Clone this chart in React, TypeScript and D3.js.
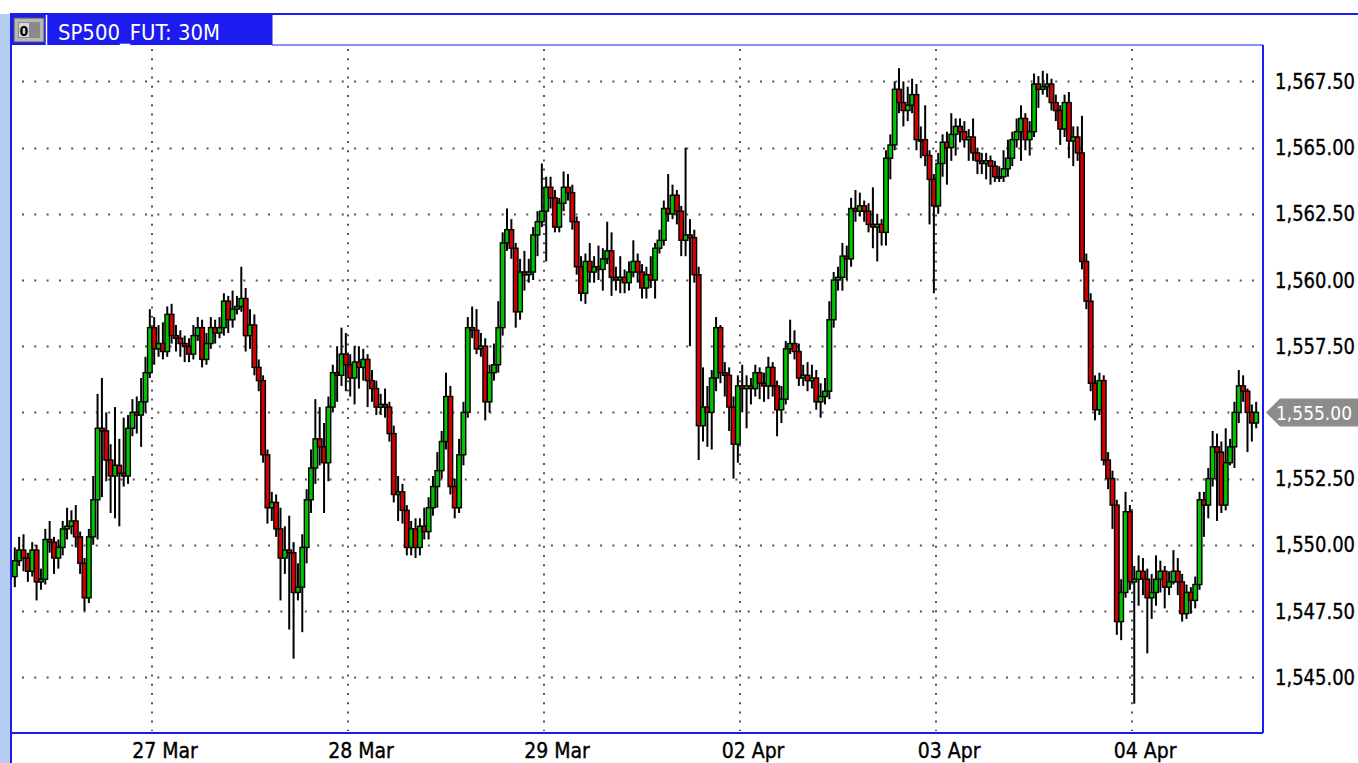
import * as d3 from "d3";

// ---- data (SP500 futures, 30 minute bars) ----
const dayLabels = ["27 Mar", "28 Mar", "29 Mar", "02 Apr", "03 Apr", "04 Apr"];
const dayStarts = [32, 77, 122, 167, 212, 257];
const priceTicks = [1545, 1547.5, 1550, 1552.5, 1555, 1557.5, 1560, 1562.5, 1565, 1567.5];
const firstOpen = 1548.8;
const lastPrice = 1555.0;

const closes = [
  // 26 Mar
  1549.4, 1549.8, 1549.5, 1549.0, 1549.8, 1548.6, 1548.7, 1550.2, 1550.1, 1549.5,
  1549.9, 1550.6, 1550.7, 1550.9, 1550.3, 1549.3, 1548.0, 1550.3, 1551.7, 1554.4,
  1554.3, 1553.2, 1552.6, 1553.0, 1552.7, 1552.6, 1554.4, 1555.0, 1554.9, 1555.4,
  1556.5, 1558.2,
  // 27 Mar
  1557.4, 1557.6, 1557.3, 1558.7, 1557.9, 1557.8, 1557.6, 1557.5, 1557.2, 1557.9,
  1558.2, 1557.0, 1557.6, 1558.2, 1558.0, 1558.2, 1559.2, 1558.5, 1558.9, 1559.0,
  1559.3, 1557.9, 1558.3, 1556.7, 1556.2, 1553.4, 1551.4, 1551.6, 1550.6, 1549.5,
  1549.8, 1549.7, 1548.2, 1548.4, 1549.9, 1551.7, 1552.9, 1554.0, 1553.7, 1553.1,
  1555.2, 1556.5, 1556.4, 1557.2, 1556.8,
  // 28 Mar
  1556.3, 1556.9, 1556.7, 1557.0, 1556.2, 1555.9, 1555.2, 1555.3, 1555.2, 1554.2,
  1551.9, 1552.0, 1551.3, 1549.9, 1550.6, 1549.9, 1550.7, 1550.5, 1551.4, 1552.2,
  1552.8, 1553.9, 1555.6, 1552.2, 1551.4, 1553.4, 1555.0, 1558.2, 1558.1, 1557.4,
  1557.5, 1555.4, 1556.5, 1556.8, 1558.2, 1561.4, 1561.9, 1561.2, 1558.8, 1560.3,
  1560.2, 1560.3, 1561.7, 1562.2, 1562.6,
  // 29 Mar
  1563.5, 1563.1, 1562.0, 1562.9, 1563.5, 1563.3, 1562.2, 1560.5, 1559.5, 1560.7,
  1560.3, 1560.5, 1560.4, 1560.8, 1561.1, 1560.1, 1560.0, 1560.1, 1559.9, 1560.3,
  1560.7, 1560.3, 1559.7, 1560.2, 1560.0, 1561.2, 1561.5, 1562.7, 1562.5, 1563.2,
  1562.6, 1561.5, 1561.7, 1561.6, 1560.2, 1554.5, 1555.2, 1555.0, 1556.3, 1558.2,
  1556.5, 1556.4, 1555.2, 1553.8, 1556.0,
  // 02 Apr
  1555.9, 1556.0, 1555.9, 1556.5, 1556.1, 1556.0, 1556.7, 1556.0, 1555.1, 1555.5,
  1557.4, 1557.6, 1557.3, 1556.3, 1556.4, 1556.2, 1556.3, 1555.4, 1555.6, 1555.8,
  1558.5, 1560.0, 1560.1, 1560.9, 1560.8, 1562.7, 1562.6, 1562.8, 1562.6, 1562.1,
  1562.0, 1562.1, 1561.8, 1564.6, 1565.1, 1567.2, 1566.7, 1566.4, 1566.6, 1567.0,
  1565.3, 1565.3, 1564.7, 1563.8, 1562.8,
  // 03 Apr
  1564.4, 1565.2, 1565.0, 1565.5, 1565.8, 1565.6, 1565.3, 1565.4, 1564.8, 1564.5,
  1564.4, 1564.5, 1564.3, 1563.9, 1563.9, 1564.2, 1564.6, 1565.3, 1565.6, 1566.1,
  1565.3, 1565.6, 1567.4, 1567.2, 1567.3, 1567.4, 1566.7, 1566.4, 1565.7, 1566.7,
  1565.25, 1565.4, 1564.8, 1560.7, 1559.2, 1556.1, 1555.1, 1556.2, 1553.2, 1552.5,
  1551.5, 1547.1, 1548.2, 1551.25, 1548.6,
  // 04 Apr
  1548.7, 1549.0, 1548.7, 1548.0, 1548.2, 1548.7, 1549.0, 1548.4, 1548.6, 1549.0,
  1548.6, 1547.4, 1548.2, 1547.9, 1548.5, 1551.7, 1551.5, 1552.5, 1553.7, 1553.5,
  1551.5, 1553.1, 1553.7, 1555.0, 1556.0, 1555.8, 1555.0, 1554.6, 1555.0,
];

const highs = [
  1549.9, 1550.3, 1550.4, 1549.7, 1550.1, 1550.0, 1549.1, 1550.6, 1550.9, 1550.3,
  1550.2, 1550.9, 1551.4, 1551.3, 1551.5, 1550.5, 1549.5, 1550.6, 1552.6, 1555.7,
  1556.3, 1555.0, 1553.8, 1555.2, 1554.0, 1554.8, 1554.9, 1555.5, 1555.6, 1556.3,
  1557.1, 1558.9,
  1558.6, 1558.3, 1558.4, 1559.0, 1559.1, 1558.3, 1558.1, 1557.9, 1557.8, 1558.3,
  1558.6, 1558.5, 1558.0, 1558.6, 1558.5, 1558.6, 1559.5, 1559.4, 1559.6, 1559.4,
  1560.5, 1559.7, 1558.9, 1558.7, 1557.0, 1556.4, 1553.6, 1552.0, 1551.9, 1551.4,
  1550.7, 1551.1, 1550.1, 1549.3, 1550.4, 1552.1, 1553.6, 1555.5, 1555.2, 1554.6,
  1555.6, 1556.8, 1557.5, 1558.2, 1558.0,
  1557.2, 1557.5, 1557.5, 1557.4, 1557.2, 1556.6, 1556.2, 1555.7, 1555.9, 1555.4,
  1554.5, 1552.6, 1552.3, 1551.5, 1550.9, 1551.0, 1551.0, 1551.4, 1551.8, 1552.6,
  1553.5, 1554.3, 1556.5, 1556.0, 1552.5, 1554.0, 1555.4, 1558.6, 1559.0, 1558.9,
  1558.0, 1557.8, 1556.8, 1557.6, 1559.2, 1561.8, 1562.7, 1562.3, 1561.4, 1560.8,
  1561.1, 1560.8, 1562.0, 1562.6, 1564.4,
  1563.9, 1563.9, 1563.4, 1563.1, 1564.1, 1564.0, 1563.6, 1562.4, 1560.9, 1561.0,
  1561.4, 1560.9, 1561.3, 1561.2, 1562.2, 1561.8, 1560.5, 1560.9, 1560.4, 1560.7,
  1561.5, 1561.0, 1560.6, 1560.5, 1560.9, 1561.4, 1561.9, 1563.0, 1564.0, 1563.6,
  1563.4, 1562.8, 1565.0, 1562.3, 1561.9, 1560.5, 1556.7, 1556.0, 1556.6, 1558.6,
  1558.3, 1556.9, 1556.7, 1555.6, 1556.4,
  1556.8, 1556.4, 1556.3, 1556.8, 1556.7, 1556.5, 1557.1, 1556.9, 1556.2, 1556.0,
  1557.7, 1558.5, 1558.1, 1557.6, 1556.8, 1556.9, 1556.8, 1556.6, 1556.1, 1556.3,
  1559.2, 1560.3, 1560.5, 1561.4, 1561.3, 1563.1, 1563.4, 1563.3, 1563.0, 1562.9,
  1563.5, 1562.5, 1562.3, 1564.9, 1565.5, 1567.5, 1568.0, 1567.5, 1567.3, 1567.6,
  1567.4, 1565.8, 1566.6, 1564.9, 1564.0,
  1564.8, 1565.5, 1565.6, 1566.3, 1566.1, 1566.1, 1566.0, 1565.7, 1566.1, 1565.0,
  1564.8, 1564.8, 1564.7, 1564.5, 1564.3, 1564.9, 1565.3, 1565.6, 1566.1, 1566.6,
  1566.3, 1566.0, 1567.8, 1567.7, 1567.9, 1567.8, 1567.6, 1567.0, 1566.6, 1567.0,
  1567.1, 1565.8, 1565.8, 1566.2, 1561.0, 1559.5, 1556.4, 1556.5, 1556.4, 1553.5,
  1552.8, 1551.7, 1548.7, 1552.0, 1551.5,
  1549.2, 1549.6, 1549.5, 1549.1, 1548.9, 1549.6, 1549.4, 1549.2, 1549.0, 1549.8,
  1549.5, 1548.9, 1548.5, 1548.4, 1548.8, 1552.0, 1552.0, 1552.9, 1554.3, 1554.2,
  1553.9, 1554.4, 1554.0, 1555.4, 1556.6, 1556.4, 1555.9, 1555.3, 1555.4,
];

const lows = [
  1548.4, 1549.2, 1549.0, 1548.6, 1548.8, 1547.9, 1548.3, 1548.5, 1549.7, 1548.9,
  1549.1, 1549.6, 1550.2, 1550.4, 1549.9, 1548.9, 1547.5, 1547.8, 1550.0, 1550.2,
  1551.8, 1552.4, 1551.2, 1551.0, 1550.7, 1552.2, 1552.3, 1554.1, 1554.2, 1553.7,
  1555.0, 1556.3,
  1556.8, 1557.1, 1557.0, 1557.1, 1557.6, 1557.3, 1557.1, 1556.9, 1556.9, 1557.0,
  1557.7, 1556.7, 1556.8, 1557.4, 1557.6, 1557.8, 1557.9, 1558.0, 1558.2, 1558.7,
  1558.8, 1557.3, 1557.4, 1556.4, 1555.8, 1553.1, 1550.8, 1550.9, 1550.3, 1547.9,
  1548.9, 1546.8, 1545.7, 1547.9, 1546.7, 1549.3, 1551.2, 1552.3, 1553.0, 1551.2,
  1552.4, 1555.0, 1555.4, 1556.0, 1555.8,
  1555.6, 1555.3, 1555.9, 1556.2, 1555.2, 1555.4, 1554.9, 1554.9, 1554.8, 1553.9,
  1551.6, 1550.9, 1550.8, 1549.6, 1549.6, 1549.5, 1549.6, 1550.2, 1550.2, 1551.1,
  1551.4, 1552.5, 1553.6, 1551.9, 1551.0, 1551.2, 1553.0, 1554.8, 1557.8, 1557.2,
  1557.1, 1554.7, 1555.0, 1556.2, 1556.5, 1557.9, 1561.1, 1560.8, 1558.2, 1558.5,
  1559.6, 1559.9, 1560.0, 1560.9, 1562.0,
  1560.7, 1562.7, 1561.8, 1561.8, 1562.6, 1563.0, 1561.9, 1560.2, 1559.2, 1559.1,
  1559.9, 1559.9, 1560.0, 1559.6, 1560.6, 1559.4, 1559.6, 1559.5, 1559.5, 1559.6,
  1560.1, 1559.9, 1559.3, 1559.3, 1559.7, 1559.3, 1561.0, 1561.3, 1562.2, 1562.3,
  1562.1, 1560.9, 1560.9, 1557.5, 1559.9, 1553.2, 1553.9, 1553.7, 1553.6, 1555.8,
  1556.1, 1555.6, 1554.3, 1552.5, 1553.1,
  1555.0, 1554.4, 1555.3, 1555.6, 1555.5, 1555.4, 1555.5, 1555.6, 1554.1, 1554.6,
  1555.3, 1557.2, 1557.0, 1556.0, 1556.0, 1555.8, 1555.9, 1555.1, 1554.8, 1555.3,
  1555.5, 1558.2, 1559.6, 1559.6, 1560.0, 1560.5, 1562.2, 1562.4, 1562.2, 1561.8,
  1561.2, 1560.7, 1561.3, 1561.3, 1563.8, 1564.9, 1566.3, 1565.8, 1566.0, 1566.3,
  1564.9, 1564.6, 1564.3, 1562.1, 1559.5,
  1562.5, 1563.9, 1563.6, 1564.5, 1564.7, 1565.2, 1565.0, 1564.5, 1564.5, 1564.0,
  1564.0, 1563.8, 1563.6, 1563.7, 1563.7, 1563.7, 1563.9, 1564.3, 1565.0, 1564.5,
  1564.9, 1564.7, 1565.4, 1566.5, 1567.0, 1566.9, 1566.4, 1566.0, 1565.1, 1565.4,
  1564.6, 1564.3, 1564.5, 1560.4, 1558.9, 1555.8, 1554.7, 1554.9, 1553.0, 1552.1,
  1550.6, 1546.6, 1546.4, 1548.0, 1548.3,
  1544.0, 1547.7, 1548.1, 1545.9, 1547.2, 1547.7, 1548.2, 1547.6, 1548.1, 1548.5,
  1548.1, 1547.1, 1547.2, 1547.4, 1547.6, 1548.3, 1550.3, 1551.0, 1552.2, 1550.9,
  1551.2, 1551.3, 1553.0, 1552.9, 1554.6, 1555.4, 1553.5, 1553.9, 1554.4,
];

// ---- layout ----
const W = 1358;
const H = 763;
const plot = { left: 11, right: 1263, top: 45, bottom: 733 };
const BLUE = "#1c1cf0";
const UP = "#00c400";
const DOWN = "#d20000";
const FONT = "'DejaVu Sans Condensed', 'DejaVu Sans', sans-serif";

const fmt = d3.format(",.2f");

export default function App() {
  const x = d3.scaleLinear().domain([0, closes.length - 1]).range([14.8, 1256.2]);
  const y = d3.scaleLinear().domain([1545, 1567.5]).range([677.2, 81.4]);

  const bars = closes.map((c, i) => ({
    i,
    open: i === 0 ? firstOpen : closes[i - 1],
    close: c,
    high: highs[i],
    low: lows[i],
  }));

  const gridX = dayStarts.map((s) => x(s - 0.5));
  const textStyle = { stroke: "#000", strokeWidth: 0.35 };

  return (
    <svg
      width={W}
      height={H}
      viewBox={`0 0 ${W} ${H}`}
      style={{ position: "absolute", left: 0, top: 0, background: "#fff" }}
    >
      <defs>
        <clipPath id="plotClip">
          <rect
            x={plot.left + 1}
            y={plot.top + 1}
            width={plot.right - plot.left - 2}
            height={plot.bottom - plot.top - 2}
          />
        </clipPath>
      </defs>

      {/* left light strip */}
      <rect x={0} y={14} width={10} height={H - 14} fill="#b4cdf0" />

      {/* horizontal dotted grid */}
      {priceTicks.map((p) => (
        <line
          key={"h" + p}
          x1={22}
          x2={plot.right - 4}
          y1={Math.round(y(p)) + 0.5}
          y2={Math.round(y(p)) + 0.5}
          stroke="#555"
          strokeWidth={2}
          strokeDasharray="2 10.3"
        />
      ))}
      {/* vertical dotted grid at day starts */}
      {gridX.map((gx, k) => (
        <line
          key={"v" + k}
          x1={Math.round(gx)}
          x2={Math.round(gx)}
          y1={plot.top + 4}
          y2={plot.bottom - 2}
          stroke="#555"
          strokeWidth={2}
          strokeDasharray="2 7.2"
        />
      ))}

      {/* candles */}
      <g clipPath="url(#plotClip)">
        {bars.map((b) => {
          const cx = x(b.i);
          const top = y(Math.max(b.open, b.close));
          const bot = y(Math.min(b.open, b.close));
          const up = b.close >= b.open;
          const h = Math.max(bot - top, 1.5);
          return (
            <g key={b.i}>
              <line
                x1={cx}
                x2={cx}
                y1={y(b.high)}
                y2={y(b.low)}
                stroke="#000"
                strokeWidth={2}
              />
              <rect
                x={cx - 2.3}
                y={top}
                width={4.6}
                height={h}
                fill={up ? UP : DOWN}
                stroke="#000"
                strokeWidth={1.4}
              />
            </g>
          );
        })}
      </g>

      {/* frame */}
      <line x1={10} x2={W} y1={14} y2={14} stroke={BLUE} strokeWidth={2} />
      <line x1={plot.left} x2={plot.left} y1={14} y2={H} stroke={BLUE} strokeWidth={2} />
      <line x1={plot.left} x2={plot.right} y1={plot.bottom} y2={plot.bottom} stroke={BLUE} strokeWidth={2} />
      <line x1={plot.right} x2={plot.right} y1={plot.top} y2={plot.bottom} stroke={BLUE} strokeWidth={2} />
      <line x1={272} x2={plot.right} y1={plot.top} y2={plot.top} stroke={BLUE} strokeWidth={1} />
      <line x1={272} x2={272} y1={14} y2={plot.top} stroke={BLUE} strokeWidth={1} />

      {/* title tab */}
      <rect x={11} y={14} width={261} height={31} fill={BLUE} />
      <rect x={14} y={18} width={30} height={24} fill="#b8b8b8" stroke="#505050" strokeWidth={1} />
      <rect x={18} y={22} width={22} height={16} fill="#8a8a8a" />
      <rect x={19} y={23} width={10} height={14} fill="#d8d8d8" />
      <text x={24} y={36} fontFamily={FONT} fontSize={14} fontWeight="bold" textAnchor="middle" fill="#000">
        0
      </text>
      <line x1={46.5} x2={46.5} y1={15} y2={45} stroke="#fff" strokeWidth={1.5} />
      <text
        x={58}
        y={40}
        fontFamily={FONT}
        fontSize={22}
        fill="#fff"
        textLength={162}
        lengthAdjust="spacingAndGlyphs"
      >
        SP500_FUT: 30M
      </text>

      {/* y axis labels */}
      {priceTicks.map((p) =>
        p === lastPrice ? null : (
          <text
            key={"t" + p}
            x={1275}
            y={y(p) + 7.5}
            fontFamily={FONT}
            fontSize={21}
            fill="#000"
            textLength={80}
            lengthAdjust="spacingAndGlyphs"
            style={textStyle}
          >
            {fmt(p)}
          </text>
        )
      )}

      {/* last price marker */}
      <path
        d={`M1266,${y(lastPrice)} L1280,${y(lastPrice) - 14} L${W},${y(lastPrice) - 14} L${W},${y(lastPrice) + 14} L1280,${y(lastPrice) + 14} Z`}
        fill="#8c8c8c"
      />
      <text
        x={1276}
        y={y(lastPrice) + 7.5}
        fontFamily={FONT}
        fontSize={20}
        fill="#fff"
        textLength={76}
        lengthAdjust="spacingAndGlyphs"
      >
        {fmt(lastPrice)}
      </text>

      {/* x axis labels */}
      {gridX.map((gx, k) => (
        <text
          key={"d" + k}
          x={gx + 13}
          y={758}
          fontFamily={FONT}
          fontSize={21}
          textAnchor="middle"
          fill="#000"
          style={textStyle}
        >
          {dayLabels[k]}
        </text>
      ))}
    </svg>
  );
}
